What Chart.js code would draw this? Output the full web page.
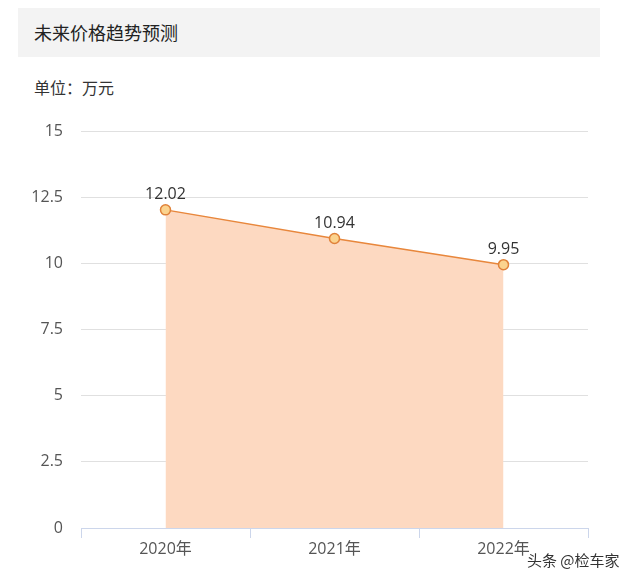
<!DOCTYPE html>
<html><head><meta charset="utf-8">
<script src="https://cdn.jsdelivr.net/npm/chart.js@4/dist/chart.umd.min.js"></script>
<style>
html,body{margin:0;padding:0;background:#fff;width:640px;height:582px;overflow:hidden;font-family:"Noto Sans CJK SC","Noto Sans",sans-serif;}
#wrap{position:relative;width:640px;height:582px;}
#hdr{position:absolute;left:18px;top:8px;width:582px;height:49px;background:#f3f3f3;}
#title{position:absolute;left:34px;top:19px;font-size:18px;color:#222;line-height:26px;}
#unit{position:absolute;left:34px;top:76px;font-size:16px;color:#333;line-height:22px;}
#wm{position:absolute;left:527px;top:549px;font-size:15px;color:#333;line-height:22px;text-shadow:0 0 2px #fff;}
canvas{position:absolute;left:0;top:0;}
</style></head>
<body><div id="wrap">
<div id="hdr"></div>
<div id="title">未来价格趋势预测</div>
<div id="unit">单位：万元</div>
<canvas id="c" width="640" height="582"></canvas>
<div id="wm">头条 @检车家</div>
</div>
<script>
const categories = ["2020年","2021年","2022年"];
const prices = [12.02, 10.94, 9.95];
const yTicks = [0, 2.5, 5, 7.5, 10, 12.5, 15];

const FONT = '"Open Sans","Noto Sans CJK SC",sans-serif';

const labelPlugin = {
  id:'vals',
  afterDatasetsDraw(chart){
    const ctx = chart.ctx;
    const meta = chart.getDatasetMeta(0);
    ctx.save();
    ctx.font = '16px ' + FONT;
    ctx.fillStyle = '#333';
    ctx.textAlign = 'center';
    ctx.textBaseline = 'bottom';
    meta.data.forEach((p,i)=>{
      ctx.fillText(prices[i].toFixed(2), p.x, p.y - 7);
    });
    ctx.restore();
  }
};

new Chart(document.getElementById('c'), {
  type:'line',
  data:{
    labels:categories,
    datasets:[{
      data:prices,
      borderColor:'#e8873c',
      borderWidth:1.5,
      backgroundColor:'#fdd9c1',
      fill:'origin',
      tension:0,
      pointRadius:5,
      pointBackgroundColor:'#fbd38e',
      pointBorderColor:'#e0823a',
      pointBorderWidth:1.5
    }]
  },
  options:{
    responsive:false,
    animation:false,
    devicePixelRatio:1,
    layout:{padding:{left:0,right:52,top:131,bottom:0}},
    plugins:{legend:{display:false},tooltip:{enabled:false}},
    scales:{
      x:{
        offset:true,
        grid:{display:true,drawOnChartArea:false,drawTicks:true,tickLength:10,color:'#ccd6eb',offset:true},
        border:{display:true,color:'#ccd6eb',width:1},
        ticks:{color:'#555',font:{size:16,family:FONT},padding:2},
        afterFit(s){ s.height = 54; }
      },
      y:{
        min:0,max:15,
        afterBuildTicks(s){ s.ticks = yTicks.map(v=>({value:v})); },
        grid:{color:'#e0e0e0',drawTicks:false},
        border:{display:false},
        ticks:{color:'#555',font:{size:16,family:FONT},padding:18,
          callback:v=>String(v)},
        afterFit(s){ s.width = 81; }
      }
    }
  },
  plugins:[labelPlugin]
});
</script>
</body></html>
